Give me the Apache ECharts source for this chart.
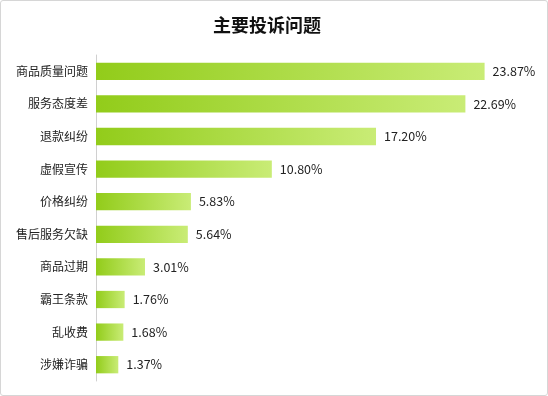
<!DOCTYPE html>
<html>
<head>
<meta charset="utf-8">
<script src="https://cdn.jsdelivr.net/npm/echarts@6/dist/echarts.min.js"></script>
<style>
html,body{margin:0;padding:0;background:#fff;}
#wrap{width:548px;height:396px;box-sizing:border-box;border:1px solid #d6d6d6;border-radius:3px;overflow:hidden;}
#chart{width:546px;height:394px;}
</style>
</head>
<body>
<div id="wrap"><div id="chart"></div></div>
<script>
var titleText = '主要投诉问题';
var categories = ['商品质量问题','服务态度差','退款纠纷','虚假宣传','价格纠纷','售后服务欠缺','商品过期','霸王条款','乱收费','涉嫌诈骗'];
var values = [23.87, 22.69, 17.20, 10.80, 5.83, 5.64, 3.01, 1.76, 1.68, 1.37];

var chart = echarts.init(document.getElementById('chart'));
chart.setOption({
  animation: false,
  title: {
    text: titleText,
    left: 207,
    top: 10,
    textStyle: {fontSize: 18, fontWeight: 'bold', color: '#111', fontFamily: 'Noto Sans CJK SC'}
  },
  grid: {left: 95, right: 44, top: 54, bottom: 14, containLabel: false},
  xAxis: {
    type: 'value', min: 0, max: 25, show: false
  },
  yAxis: {
    type: 'category',
    data: categories,
    inverse: true,
    axisLine: {show: true, lineStyle: {color: '#d0d0d0', width: 1}},
    axisTick: {show: false},
    axisLabel: {color: '#222', fontSize: 12, margin: 8, fontFamily: 'Noto Sans CJK SC'}
  },
  series: [{
    type: 'bar',
    data: values,
    barWidth: '53%',
    itemStyle: {
      color: new echarts.graphic.LinearGradient(0, 0, 1, 0, [
        {offset: 0, color: '#92cc1a'},
        {offset: 1, color: '#c9ec76'}
      ])
    },
    label: {
      show: true, position: 'right', distance: 8,
      formatter: function(p){ return p.value.toFixed(2) + '%'; },
      color: '#222', fontSize: 12.5, fontFamily: 'Noto Sans CJK SC'
    }
  }]
});
</script>
</body>
</html>
